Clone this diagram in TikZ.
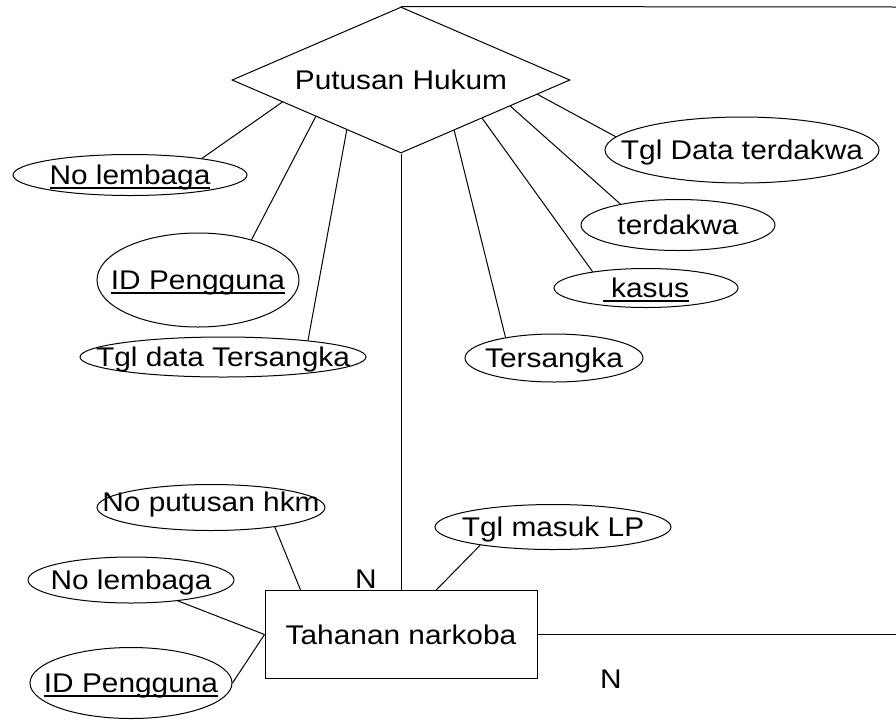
\documentclass[tikz,border=0pt]{standalone}
\usepackage{fontspec}
\setmainfont{Liberation Sans}[FakeStretch=1.105]
\usetikzlibrary{shapes.geometric,calc}
% underline at a fixed depth below the baseline
\newcommand{\ulbox}[1]{\setbox0\hbox{#1}\rlap{\vrule width\wd0 height -2.6pt depth 4.8pt}\box0}

\begin{document}
\begin{tikzpicture}[x=1pt,y=-1pt,
  font=\fontsize{27}{32}\selectfont,
  line width=1pt,
  every label/.style={inner sep=0pt,text height=19.3pt,text depth=0pt},
  attr/.style={draw,ellipse,inner sep=0pt},
  rel/.style={draw,diamond,inner sep=0pt,minimum width=338pt,minimum height=146pt},
  ent/.style={draw,rectangle,inner sep=0pt,minimum width=272pt,minimum height=88pt},
  card/.style={inner sep=0pt,text height=19.3pt,text depth=0pt},
  link/.style={draw}]
\useasboundingbox (0,0) rectangle (896,721);

% relationship and entity
\node[rel,label=center:{Putusan Hukum}] (pu) at (401,80) {};
\node[ent,label=center:{Tahanan narkoba}] (th) at (401,634.5) {};

% attributes of the relationship
\node[attr,minimum width=234pt,minimum height=41pt,label=center:{\ulbox{No lembaga}}] (nlA) at (130,175) {};
\node[attr,minimum width=202pt,minimum height=94pt,label=center:{\ulbox{ID Pengguna}}] (idA) at (198,280) {};
\node[attr,minimum width=286pt,minimum height=40pt,label=center:{Tgl data Tersangka}] (tglT) at (223,357) {};
\node[attr,minimum width=274pt,minimum height=66pt,label=center:{Tgl Data terdakwa}] (tglD) at (742,150) {};
\node[attr,minimum width=194pt,minimum height=51pt,label=center:{terdakwa}] (terd) at (678,225) {};
\node[attr,minimum width=184pt,minimum height=39pt,label=center:{\ulbox{~kasus}}] (kasus) at (646,288) {};
\node[attr,minimum width=178pt,minimum height=48pt,label=center:{Tersangka}] (ters) at (554,358) {};

% attributes of the entity
\node[attr,minimum width=228pt,minimum height=46pt,label={[yshift=6pt]center:{No putusan hkm}}] (nph) at (211,507.5) {};
\node[attr,minimum width=236pt,minimum height=45pt,label=center:{Tgl masuk LP}] (tml) at (553,527) {};
\node[attr,minimum width=206pt,minimum height=46pt,label=center:{No lembaga}] (nlB) at (131,580) {};
\node[attr,minimum width=202pt,minimum height=71pt,label=center:{\ulbox{ID Pengguna}}] (idB) at (131,683) {};

% cardinalities
\node[card] (n1) at (366,579) {N};
\node[card] (n2) at (611,679) {N};

% attachment points on the diamond and on the rectangle
\coordinate (bl1) at ($(pu.west)!0.30!(pu.south)$);
\coordinate (bl2) at ($(pu.west)!0.497!(pu.south)$);
\coordinate (bl3) at ($(pu.west)!0.68!(pu.south)$);
\coordinate (br1) at ($(pu.south)!0.314!(pu.east)$);
\coordinate (br2) at ($(pu.south)!0.479!(pu.east)$);
\coordinate (br3) at ($(pu.south)!0.645!(pu.east)$);
\coordinate (br4) at ($(pu.south)!0.805!(pu.east)$);
\coordinate (tp1) at ($(th.north west)!0.132!(th.north east)$);
\coordinate (tp2) at ($(th.north west)!0.629!(th.north east)$);
\coordinate (topEnd) at (896,7);
\coordinate (sideEnd) at (896,634.5);

% connectors
\draw[link] (bl1) -- (nlA.13);
\draw[link] (bl2) -- (idA.37);
\draw[link] (bl3) -- (tglT.11);
\draw[link] (br1) -- (ters.157);
\draw[link] (br2) -- (kasus.163);
\draw[link] (br3) -- (terd.160);
\draw[link] (br4) -- (tglD.174);
\draw[link] (pu.south) -- (th.north);
\draw[link] (pu.north) -- (topEnd);
\draw[link] (th.east) -- (sideEnd);
\draw[link] (tp1) -- (nph.-17);
\draw[link] (tp2) -- (tml.194);
\draw[link] (th.west) -- (nlB.-24);
\draw[link] (th.west) -- (idB.east);
\end{tikzpicture}
\end{document}
